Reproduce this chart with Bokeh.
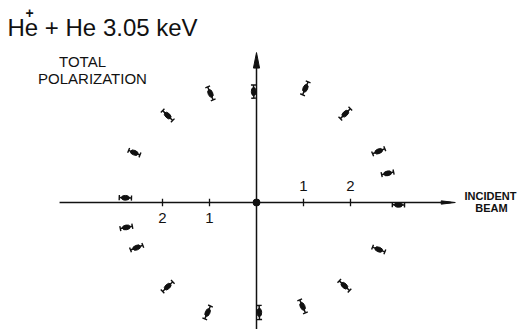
import numpy as np
from bokeh.plotting import figure
from bokeh.models import Range1d, Label
from bokeh.core.properties import value
from bokeh.embed import file_html
from bokeh.resources import INLINE

# Total polarization vector components: x along the incident beam, y transverse.
pol_x = [-0.06, 1.04, 1.89, 2.60, 2.79, 3.02, 2.60, 1.87, 0.98,
         0.06, -1.04, -1.89, -2.55, -2.77, -2.79, -2.60, -1.89, -0.98]
pol_y = [2.36, 2.43, 1.89, 1.09, 0.62, -0.05, -1.00, -1.77, -2.21,
         -2.34, -2.34, -1.79, -0.96, -0.53, 0.10, 1.06, 1.85, 2.32]
# Uncertainty in the magnitude (drawn along the radius)
pol_err = [0.14, 0.15, 0.15, 0.14, 0.13, 0.13, 0.14, 0.15, 0.15,
           0.15, 0.15, 0.15, 0.14, 0.13, 0.13, 0.13, 0.15, 0.15]

tick_vals = [-2, -1, 1, 2]
tick_text = ["2", "1", "1", "2"]

INK = "#111111"
UNIT = 47.0            # pixels per polarization unit, same on both axes
W, H = 518, 329
OX, OY = 256, 202      # origin position in the page


def sx(px_):
    return (px_ - OX) / UNIT


def sy(py_):
    return (OY - py_) / UNIT


p = figure(width=W, height=H, output_backend="svg", toolbar_location=None,
           x_range=Range1d(-OX / UNIT, (W - OX) / UNIT),
           y_range=Range1d(-(H - OY) / UNIT, OY / UNIT),
           min_border=0, min_border_left=0, min_border_right=0,
           min_border_top=0, min_border_bottom=0)
p.axis.visible = False
p.grid.visible = False
p.outline_line_color = None
p.background_fill_color = "white"
p.border_fill_color = "white"

# Axes drawn through the origin
x_left, x_right = -4.19, 4.23
y_bottom, y_top = -2.75, 3.19
p.segment(x0=[x_left], y0=[0], x1=[x_right - 0.1], y1=[0], line_color=INK, line_width=1.4)
p.segment(x0=[0], y0=[y_bottom], x1=[0], y1=[y_top - 0.2], line_color=INK, line_width=1.5)
# arrow heads
p.patch(x=[-0.065, 0, 0.065], y=[y_top - 0.33, y_top, y_top - 0.33], color=INK)
p.patch(x=[x_right - 0.3, x_right, x_right - 0.3], y=[0.035, 0, -0.035], color=INK)

# ticks on the beam axis
p.segment(x0=tick_vals, y0=[-0.08] * 4, x1=tick_vals, y1=[0.08] * 4, line_color=INK, line_width=1.3)
for v, t in zip(tick_vals, tick_text):
    above = v > 0
    p.add_layout(Label(x=v, y=0.24 if above else -0.22, text=t, text_align="center",
                       text_baseline="bottom" if above else "top",
                       text_font="Liberation Sans", text_font_size="15px", text_color=INK))

# origin dot
p.scatter(x=[0], y=[0], size=7, color=INK)

# data points: radial error bars with caps and an elongated blob
px = np.array(pol_x); py = np.array(pol_y); pe = np.array(pol_err)
ang = np.arctan2(py, px)
ux, uy = np.cos(ang), np.sin(ang)
vx, vy = -uy, ux
p.segment(x0=px - pe * ux, y0=py - pe * uy, x1=px + pe * ux, y1=py + pe * uy,
          line_color=INK, line_width=1.5)
cap = 0.055
for s in (-1, 1):
    ex, ey = px + s * pe * ux, py + s * pe * uy
    p.segment(x0=ex - cap * vx, y0=ey - cap * vy, x1=ex + cap * vx, y1=ey + cap * vy,
              line_color=INK, line_width=1.4)
p.ellipse(x=px, y=py, width=0.17, height=0.10, angle=ang, color=INK)


def put(text, x, y, size, align="left", bold=False, baseline="bottom"):
    # x, y in page pixels from the top-left corner
    p.text(x=[sx(x)], y=[sy(y)], text=[text], text_align=align,
           text_baseline=baseline, text_font=value("Liberation Sans"),
           text_font_size=size, text_font_style="bold" if bold else "normal",
           text_color=INK)


put("He + He 3.05 keV", 7, 40, "24px")
put("+", 29, 12, "14px", align="center", bold=True, baseline="middle")
put("TOTAL", 82, 69, "15px", align="center")
put("POLARIZATION", 92, 86, "15px", align="center")
put("INCIDENT", 490, 201, "11px", align="center", bold=True)
put("BEAM", 491, 213, "11px", align="center", bold=True)

open("out.html", "w").write(file_html(p, INLINE))
